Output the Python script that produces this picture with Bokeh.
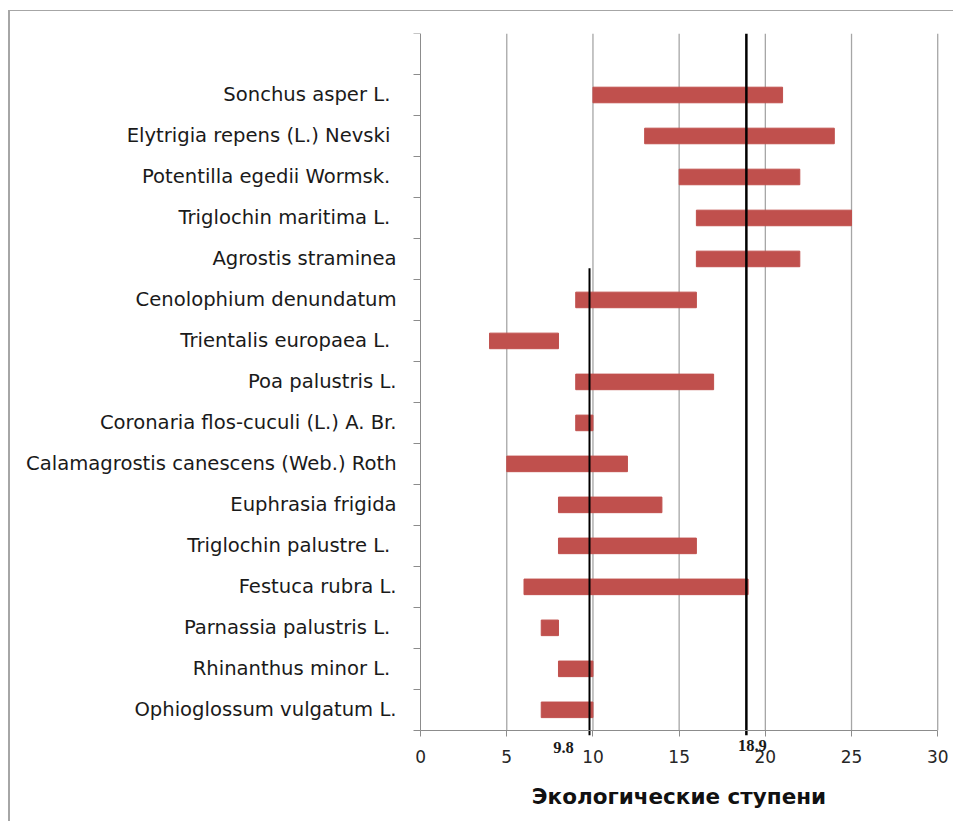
from bokeh.plotting import figure
from bokeh.models import Range1d, FixedTicker, ColumnDataSource
from bokeh.core.properties import value
from bokeh.embed import file_html
from bokeh.resources import INLINE

species = [
    "Sonchus asper L. ",
    "Elytrigia repens (L.) Nevski ",
    "Potentilla egedii Wormsk. ",
    "Triglochin maritima L. ",
    "Agrostis straminea",
    "Cenolophium denundatum",
    "Trientalis europaea L. ",
    "Poa palustris L.",
    "Coronaria flos-cuculi (L.) A. Br.",
    "Calamagrostis canescens (Web.) Roth",
    "Euphrasia frigida",
    "Triglochin palustre L. ",
    "Festuca rubra L.",
    "Parnassia palustris L. ",
    "Rhinanthus minor L. ",
    "Ophioglossum vulgatum L.",
]
low = [10, 13, 15, 16, 16, 9, 4, 9, 9, 5, 8, 8, 6, 7, 8, 7]
high = [21, 24, 22, 25, 22, 16, 8, 17, 10, 12, 14, 16, 19, 8, 10, 10]
x_ticks = [0, 5, 10, 15, 20, 25, 30]
line_a = 9.8
line_b = 18.9
line_a_top = 11.27
n_slots = 17

n = len(species)
centers = [n - i - 0.5 for i in range(n)]
src = ColumnDataSource(dict(y=centers, left=low, right=high, name=species))

p = figure(width=945, height=811, output_backend="svg", toolbar_location=None,
           x_range=Range1d(-23.5, 30.8), y_range=Range1d(-2.2, n_slots),
           min_border_left=5, min_border_right=4, min_border_top=22, min_border_bottom=2)
p.styles = {"border-top": "1px solid #a6a6a6", "border-left": "2px solid #a6a6a6",
            "margin-left": "8px", "margin-top": "10px"}
p.outline_line_color = None
p.background_fill_color = "white"
p.border_fill_color = "white"

# vertical grid lines (limited to the data area)
p.segment(x0=x_ticks[1:], y0=[0] * 6, x1=x_ticks[1:], y1=[n_slots] * 6,
          line_color="#a6a6a6", line_width=1.3)

p.hbar(y="y", left="left", right="right", height=0.38, color="#c0504d", source=src)

p.segment(x0=[line_b], y0=[-0.12], x1=[line_b], y1=[n_slots], line_color="black", line_width=2.5)
p.segment(x0=[line_a], y0=[-0.12], x1=[line_a], y1=[line_a_top], line_color="black", line_width=2)

p.text(x=[line_a, line_b], y=[-0.41, -0.37], text=[str(line_a), str(line_b)],
       x_offset=[-26, 6], text_font=value("Liberation Serif"), text_font_style="bold",
       text_font_size="16.5px", text_align="center", text_baseline="middle", text_color="#1a1a1a")

# x axis at y = 0
p.xaxis.fixed_location = 0
p.xaxis.bounds = (0, 30)
p.xaxis.ticker = FixedTicker(ticks=x_ticks)
p.xaxis.axis_line_color = "#8c8c8c"
p.xaxis.major_tick_line_color = "#8c8c8c"
p.xaxis.major_tick_out = 6
p.xaxis.major_tick_in = 0
p.xaxis.minor_tick_line_color = None
p.xaxis.major_label_text_font = "DejaVu Sans"
p.xaxis.major_label_text_font_size = "17px"
p.xaxis.major_label_text_color = "#262626"
p.xaxis.major_label_standoff = 14
p.xaxis.axis_label = "Экологические ступени"
p.xaxis.axis_label_text_font = "DejaVu Sans"
p.xaxis.axis_label_text_font_style = "bold"
p.xaxis.axis_label_text_font_size = "21.5px"
p.xaxis.axis_label_text_color = "#111111"
p.xaxis.axis_label_standoff = 17

# y axis at x = 0
p.yaxis.fixed_location = 0
p.yaxis.bounds = (0, n_slots)
p.yaxis.ticker = FixedTicker(ticks=centers, minor_ticks=list(range(n_slots + 1)))
p.yaxis.major_label_overrides = {c: s for c, s in zip(centers, species)}
p.yaxis.axis_line_color = "#8c8c8c"
p.yaxis.major_tick_line_color = None
p.yaxis.major_tick_out = 0
p.yaxis.major_tick_in = 0
p.yaxis.minor_tick_line_color = "#8c8c8c"
p.yaxis.minor_tick_out = 7
p.yaxis.minor_tick_in = 0
p.yaxis.major_label_text_font = "DejaVu Sans"
p.yaxis.major_label_text_font_size = "19.6px"
p.yaxis.major_label_text_color = "#1a1a1a"
p.yaxis.major_label_standoff = 17

p.xgrid.grid_line_color = None
p.ygrid.grid_line_color = None

open("out.html", "w").write(file_html(p, INLINE))
